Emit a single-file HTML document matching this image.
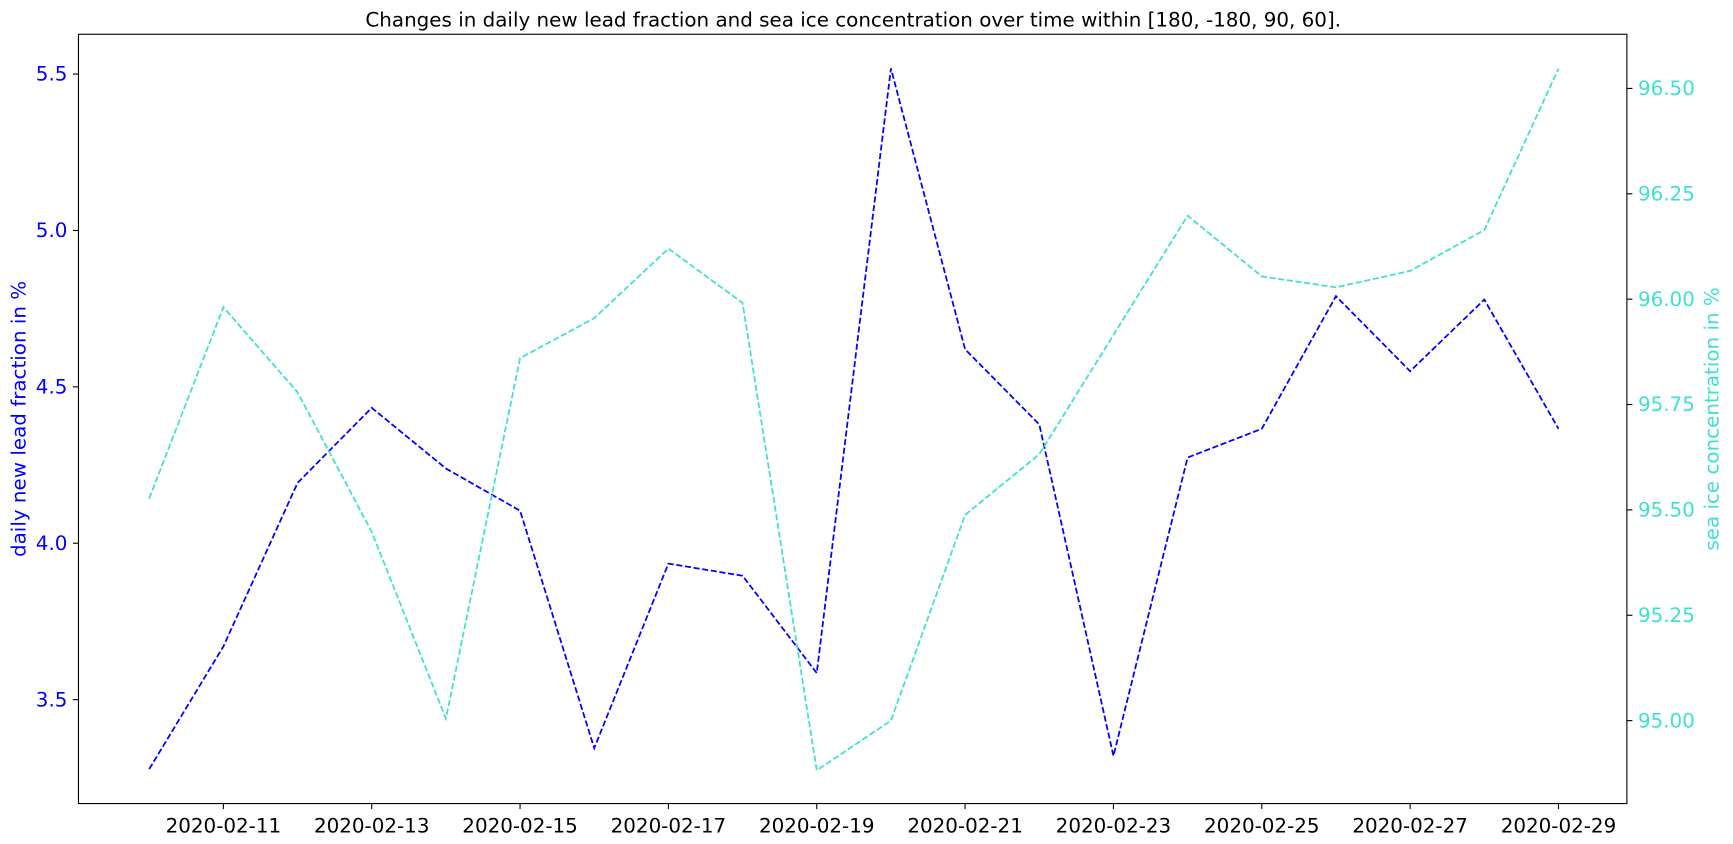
<!DOCTYPE html>
<html><head><meta charset="utf-8"><style>
body{margin:0;background:#fff;font-family:"Liberation Sans","DejaVu Sans",sans-serif;overflow:hidden;}
svg{display:block;}
svg text{font-family:"DejaVu Sans","Liberation Sans",sans-serif;}
</style></head><body>
<svg id="chart" width="1733" height="844" viewBox="0 0 1568 763.6" preserveAspectRatio="none" xmlns="http://www.w3.org/2000/svg"></svg>
<script>
const dates = ["2020-02-10","2020-02-11","2020-02-12","2020-02-13","2020-02-14","2020-02-15","2020-02-16","2020-02-17","2020-02-18","2020-02-19","2020-02-20","2020-02-21","2020-02-22","2020-02-23","2020-02-24","2020-02-25","2020-02-26","2020-02-27","2020-02-28","2020-02-29"];
const leadFraction = [3.278,3.670,4.193,4.433,4.239,4.104,3.345,3.935,3.896,3.585,5.518,4.620,4.380,3.320,4.274,4.366,4.790,4.550,4.779,4.366];
const seaIce = [95.527,95.981,95.779,95.448,95.005,95.860,95.955,96.120,95.991,94.882,95.000,95.488,95.632,95.915,96.198,96.054,96.028,96.067,96.164,96.547];
const xTickLabels = ["2020-02-11","2020-02-13","2020-02-15","2020-02-17","2020-02-19","2020-02-21","2020-02-23","2020-02-25","2020-02-27","2020-02-29"];
const leftTicks = [3.5,4.0,4.5,5.0,5.5];
const rightTicks = [95.00,95.25,95.50,95.75,96.00,96.25,96.50];

const svg = document.getElementById('chart');
const NS = "http://www.w3.org/2000/svg";
const L=71,R=1472,T=31,B=727;
const d0 = Date.parse("2020-02-10");
const x = d => 135 + (Date.parse(d)-d0)/86400000*67.11;
const yL = v => 67 + (5.5 - v)*283;
const yR = v => 80 + (96.5 - v)*381.33;
function el(tag, attrs, text){const e=document.createElementNS(NS,tag);for(const k in attrs)e.setAttribute(k,attrs[k]);if(text!==undefined)e.textContent=text;svg.appendChild(e);return e;}

const title = el('text',{x:772,y:24,'font-size':18,'text-anchor':'middle',fill:'#000'},"Changes in daily new lead fraction and sea ice concentration over time within [180, -180, 90, 60].");



const frame = el('rect',{x:L,y:T,width:R-L,height:B-T,fill:'none',stroke:'#000','stroke-width':1});



xTickLabels.forEach(d=>{
  const xx=x(d);
  const t=el('line',{x1:xx,x2:xx,y1:B,y2:B+5,stroke:'#000'});
  
  
  const lb=el('text',{x:xx,y:B+26,'font-size':18,'text-anchor':'middle'},d);
  
  
});
leftTicks.forEach(v=>{
  const yy=yL(v);
  const t=el('line',{x1:L-5,x2:L,y1:yy,y2:yy,stroke:'#000'});
  
  
  const lb=el('text',{x:L-10,y:yy+6,'font-size':18,'text-anchor':'end',fill:'#0000ff'},v.toFixed(1));
  
  
});
rightTicks.forEach(v=>{
  const yy=yR(v);
  const t=el('line',{x1:R,x2:R+5,y1:yy,y2:yy,stroke:'#000'});
  
  
  const lb=el('text',{x:R+10,y:yy+6,'font-size':18,'text-anchor':'start',fill:'#40e0d0'},v.toFixed(2));
  
  
});
const yl=el('text',{x:0,y:0,'font-size':18,'text-anchor':'middle',fill:'#0000ff',transform:'translate(23,379) rotate(-90)'},"daily new lead fraction in %");


const yr=el('text',{x:0,y:0,'font-size':18,'text-anchor':'middle',fill:'#40e0d0',transform:'translate(1555,379) rotate(-90)'},"sea ice concentration in %");



const p1=el('polyline',{points:dates.map((d,i)=>x(d)+','+yL(leadFraction[i])).join(' '),fill:'none',stroke:'#0000ff','stroke-width':1.6,'stroke-dasharray':'5.5,2.4'});


const p2=el('polyline',{points:dates.map((d,i)=>x(d)+','+yR(seaIce[i])).join(' '),fill:'none',stroke:'#40e0d0','stroke-width':1.6,'stroke-dasharray':'5.5,2.4'});


</script>
</body></html>
